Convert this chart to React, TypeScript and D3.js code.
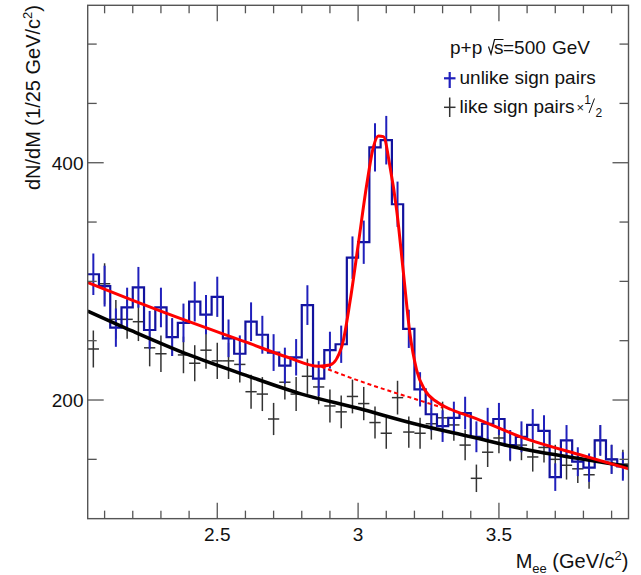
import React from 'react';
import * as d3 from 'd3';

const W = 641;
const H = 575;
const FONT = '"Liberation Sans", Arial, Helvetica, sans-serif';

// binning: 1/25 GeV bins from 2.04 to 3.96 GeV/c^2
const firstEdge = 2.04;
const binWidth = 0.04;

// unlike sign pairs (counts per bin)
const unlikeSign = [
  306, 296, 261, 278, 295, 259, 278, 253, 265, 283, 272, 287,
  252, 239, 266, 255, 240, 229, 236, 280, 218, 242, 247, 320,
  333, 413, 419, 365, 260, 209, 188, 178, 185, 189, 169, 180,
  184, 162, 169, 179, 174, 135, 166, 148, 143, 166, 150, 144,
];

// like sign pairs x 1/2
const likeSignHalf = [
  243, 298, 268, 268, 266, 244, 239, 253, 238, 231, 242, 233,
  233, 230, 207, 205, 184, 215, 205, 220, 211, 195, 190, 203,
  197, 181, 172, 202, 173, 172, 180, 185, 179, 162, 134, 156,
  168, 161, 162, 152, 160, 150, 145, 142, 137, 166, 150, 146,
];

// fit curves: [mass, dN/dM]
const totalFit: [number, number][] = [
  [2.04, 299], [2.2, 284], [2.4, 266], [2.6, 249], [2.75, 236], [2.86, 228.5],
  [2.9, 229.5], [2.942, 245], [2.972, 284], [3.001, 332], [3.031, 382],
  [3.054, 413], [3.072, 422.5], [3.09, 422], [3.113, 397], [3.137, 360],
  [3.161, 307], [3.184, 256], [3.208, 225], [3.238, 208], [3.279, 198.5],
  [3.33, 192], [3.4, 186], [3.6, 167], [3.8, 153], [3.96, 142],
];
const backgroundFit: [number, number][] = [
  [2.87, 228], [3.0, 216.5], [3.1, 208.5], [3.2, 201], [3.3, 193.5],
];
const likeFit: [number, number][] = [
  [2.04, 275], [2.2, 258], [2.4, 238], [2.6, 221], [2.8, 205], [3.0, 193],
  [3.2, 180], [3.4, 169], [3.6, 158], [3.8, 150], [3.96, 144],
];

const xMajorTicks = [2.5, 3, 3.5];
const xTickLabels = ['2.5', '3', '3.5'];
const yMajorTicks = [200, 400];
const yTickLabels = ['200', '400'];

export default function App() {
  const x = d3.scaleLinear().domain([2.04, 3.96]).range([87.7, 628.5]);
  const y = d3.scaleLinear().domain([100, 532.7]).range([518.65, 5.3]);
  const [x0, x1] = x.range();
  const [yb, yt] = y.range();

  const xMinor = x.ticks(20).filter((t) => !xMajorTicks.some((m) => Math.abs(m - t) < 1e-6));
  const yMinor = y.ticks(9).filter((t) => !yMajorTicks.includes(t) && t > 100);

  const edges = unlikeSign.map((_, i) => firstEdge + i * binWidth);
  const stepPts: [number, number][] = unlikeSign.map((v, i) => [edges[i], v]);
  stepPts.push([firstEdge + unlikeSign.length * binWidth, unlikeSign[unlikeSign.length - 1]]);
  const stepLine = d3
    .line<[number, number]>()
    .x((d) => x(d[0]))
    .y((d) => y(d[1]))
    .curve(d3.curveStepAfter);
  const fitLine = d3
    .line<[number, number]>()
    .x((d) => x(d[0]))
    .y((d) => y(d[1]))
    .curve(d3.curveMonotoneX);

  const blue = '#12129e';
  const blueErr = '#2020bc';
  const grey = '#333';

  return (
    <svg width={W} height={H} style={{ position: 'absolute', left: 0, top: 0, background: '#fff' }}>
      {/* like sign crosses */}
      <g stroke={grey} strokeWidth={1.5}>
        {likeSignHalf.map((v, i) => {
          const c = edges[i] + binWidth / 2;
          const e = Math.sqrt(v);
          return (
            <g key={i}>
              <line x1={x(edges[i])} x2={x(edges[i] + binWidth)} y1={y(v)} y2={y(v)} />
              <line x1={x(c)} x2={x(c)} y1={y(v - e)} y2={y(v + e)} />
            </g>
          );
        })}
      </g>
      {/* unlike sign histogram */}
      <path d={stepLine(stepPts) || ''} fill="none" stroke={blue} strokeWidth={2.2} />
      <g stroke={blueErr} strokeWidth={2}>
        {unlikeSign.map((v, i) => {
          const c = edges[i] + binWidth / 2;
          const e = Math.sqrt(v);
          return <line key={i} x1={x(c)} x2={x(c)} y1={y(v - e)} y2={y(v + e)} />;
        })}
      </g>
      {/* fits */}
      <path d={fitLine(likeFit) || ''} fill="none" stroke="#000" strokeWidth={3.5} />
      <path d={fitLine(backgroundFit) || ''} fill="none" stroke="#ff0000" strokeWidth={2} strokeDasharray="4,3" />
      <path d={fitLine(totalFit) || ''} fill="none" stroke="#ff0000" strokeWidth={3} />

      {/* frame */}
      <rect x={x0} y={yt} width={x1 - x0} height={yb - yt} fill="none" stroke="#555" strokeWidth={1.4} />
      <g stroke="#555" strokeWidth={1.3}>
        {xMinor.map((t) => (
          <g key={'xm' + t}>
            <line x1={x(t)} x2={x(t)} y1={yb} y2={yb - 8} />
            <line x1={x(t)} x2={x(t)} y1={yt} y2={yt + 8} />
          </g>
        ))}
        {xMajorTicks.map((t) => (
          <g key={'xM' + t}>
            <line x1={x(t)} x2={x(t)} y1={yb} y2={yb - 16} />
            <line x1={x(t)} x2={x(t)} y1={yt} y2={yt + 16} />
          </g>
        ))}
        {yMinor.map((t) => (
          <g key={'ym' + t}>
            <line x1={x0} x2={x0 + 9} y1={y(t)} y2={y(t)} />
            <line x1={x1} x2={x1 - 9} y1={y(t)} y2={y(t)} />
          </g>
        ))}
        {yMajorTicks.map((t) => (
          <g key={'yM' + t}>
            <line x1={x0} x2={x0 + 16} y1={y(t)} y2={y(t)} />
            <line x1={x1} x2={x1 - 16} y1={y(t)} y2={y(t)} />
          </g>
        ))}
      </g>
      <g fontFamily={FONT} fontSize={19} fill="#111">
        {xMajorTicks.map((t, i) => (
          <text key={'xl' + t} x={x(t)} y={541} textAnchor="middle">
            {xTickLabels[i]}
          </text>
        ))}
        {yMajorTicks.map((t, i) => (
          <text key={'yl' + t} x={83.5} y={y(t) + 6.8} textAnchor="end">
            {yTickLabels[i]}
          </text>
        ))}
        {/* axis titles */}
        <text x={x1} y={568} textAnchor="end" fontSize={20}>
          M<tspan fontSize={13} dy={5}>ee</tspan>
          <tspan dy={-5}> (GeV/c</tspan>
          <tspan fontSize={13} dy={-8}>2</tspan>
          <tspan dy={8}>)</tspan>
        </text>
        <text transform="translate(40,5) rotate(-90)" textAnchor="end" fontSize={20}>
          dN/dM (1/25 GeV/c<tspan fontSize={13} dy={-8}>2</tspan>
          <tspan dy={8}>)</tspan>
        </text>

        {/* legend */}
        <text x={450} y={53.5}>p+p</text>
        <path d="M488.5,46.5 L491,54 L494.5,39.5 L503.5,39.5" fill="none" stroke="#111" strokeWidth={1.2} />
        <text x={494} y={53.5}>s</text>
        <text x={503} y={53.5}>=500</text>
        <text x={552} y={53.5}>GeV</text>

        <line x1={444} x2={455.5} y1={78.3} y2={78.3} stroke={blueErr} strokeWidth={2.2} />
        <line x1={449.7} x2={449.7} y1={72} y2={88} stroke={blueErr} strokeWidth={2.2} />
        <text x={459.5} y={83.5}>unlike sign pairs</text>

        <line x1={444} x2={455.5} y1={107.3} y2={107.3} stroke={grey} strokeWidth={1.5} />
        <line x1={449.7} x2={449.7} y1={97.5} y2={117} stroke={grey} strokeWidth={1.5} />
        <text x={459.5} y={112.7}>like sign pairs</text>
        <text x={576.5} y={112} fontSize={13}>×</text>
        <text x={584.3} y={104} fontSize={12}>1</text>
        <path d="M589,113 L594.5,98.5" stroke="#111" strokeWidth={1} />
        <text x={595.5} y={116.5} fontSize={12}>2</text>
      </g>
    </svg>
  );
}
